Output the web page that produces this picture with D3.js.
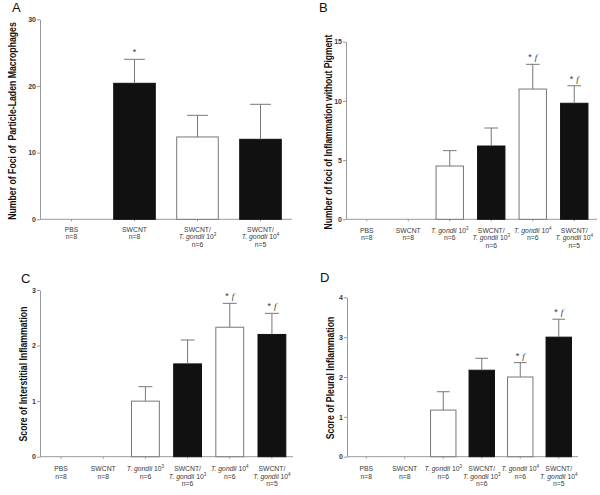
<!DOCTYPE html>
<html><head><meta charset="utf-8">
<script src="https://cdn.jsdelivr.net/npm/d3@7"></script>
<style>body{margin:0;background:#fff}svg{display:block}</style>
</head><body>
<script>
// ---------- data ----------
const catsA = ["PBS", "SWCNT", "SWCNT/\nT. gondii 10^3", "SWCNT/\nT. gondii 10^4"];
const nA    = ["n=8", "n=8", "n=6", "n=5"];
const meanA = [0, 20.4, 12.35, 12.0];
const errA  = [0, 3.6, 3.25, 5.25];
const sigA  = ["", "*", "", ""];
const darkA = [false, true, false, true];
const ticksA = [0, 10, 20, 30];

const cats6 = ["PBS", "SWCNT", "T. gondii 10^3", "SWCNT/\nT. gondii 10^3", "T. gondii 10^4", "SWCNT/\nT. gondii 10^4"];
const n6    = ["n=8", "n=8", "n=6", "n=6", "n=6", "n=5"];
const dark6 = [false, true, false, true, false, true];

const meanB = [0, 0, 4.5, 6.19, 11.0, 9.8];
const errB  = [0, 0, 1.3, 1.52, 2.09, 1.48];
const sigB  = ["", "", "", "", "* f", "* f"];
const ticksB = [0, 5, 10, 15];

const meanC = [0, 0, 1.0, 1.67, 2.33, 2.2];
const errC  = [0, 0, 0.26, 0.43, 0.43, 0.38];
const sigC  = ["", "", "", "", "* f", "* f"];
const ticksC = [0, 1, 2, 3];

const meanD = [0, 0, 1.17, 2.17, 2.0, 3.0];
const errD  = [0, 0, 0.46, 0.30, 0.36, 0.45];
const sigD  = ["", "", "", "", "* f", "* f"];
const ticksD = [0, 1, 2, 3, 4];

const titles = ["Number of Foci of\u00a0 Particle-Laden Macrophages",
                "Number of foci of Inflammation without Pigment",
                "Score of Interstitial Inflammation",
                "Score of Pleural Inflammation"];
const letters = ["A", "B", "C", "D"];

// ---------- drawing ----------
const svg = d3.select("body").append("svg").attr("width", 600).attr("height", 495)
  .style("font-family", "'Liberation Sans', Arial, sans-serif");

const AX = "#9a9a9a", BAR_STROKE = "#777", TXT = "#3a3a3a";

function panel(o) {
  const x = d3.scaleBand().domain(o.cats).range([o.x0, o.x1]).paddingInner(0.34).paddingOuter(0.17);
  const y = d3.scaleLinear().domain([0, d3.max(o.ticks)]).range([o.y0, o.y1]);
  const g = svg.append("g");

  g.append("text").attr("x", o.lx).attr("y", o.ly).attr("font-size", 13).attr("fill", "#111").text(o.letter);

  const ya = g.append("g").attr("transform", `translate(${o.x0},0)`)
    .call(d3.axisLeft(y).tickValues(o.ticks).tickSize(3).tickSizeOuter(0).tickFormat(d3.format("d")));
  ya.select(".domain").attr("stroke", AX);
  ya.selectAll(".tick line").attr("stroke", AX);
  ya.selectAll(".tick text").attr("font-size", 7).attr("font-weight", "bold").attr("fill", TXT)
    .attr("font-family", "'Liberation Sans', Arial, sans-serif").attr("x", -4);

  const xa = g.append("g").attr("transform", `translate(0,${o.y0})`)
    .call(d3.axisBottom(x).tickSize(2).tickSizeOuter(0).tickFormat(""));
  xa.select(".domain").attr("d", `M${o.x0},0H${o.xEnd}`).attr("stroke", AX);
  xa.selectAll(".tick line").attr("stroke", AX);

  o.cats.forEach((c, i) => {
    const lines = c.split("\n").concat([o.n[i]]);
    const cx = x(c) + x.bandwidth() / 2;
    lines.forEach((ln, k) => {
      const t = g.append("text").attr("x", cx).attr("y", o.y0 + o.labOff + k * 7.6)
        .attr("text-anchor", "middle").attr("font-size", 6.8).attr("fill", TXT);
      const m = ln.match(/^(T\. gondii) (\d+)\^(\d)$/);
      if (m) {
        t.append("tspan").attr("font-style", "italic").text(m[1] + " ");
        t.append("tspan").text(m[2]);
        t.append("tspan").attr("font-size", 4.5).attr("dy", -3).text(m[3]);
      } else t.text(ln);
    });
  });

  const idx = d3.range(o.cats.length).filter(i => o.mean[i] > 0);
  g.selectAll("rect.bar").data(idx).join("rect").attr("class", "bar")
    .attr("x", i => x(o.cats[i])).attr("width", x.bandwidth())
    .attr("y", i => y(o.mean[i])).attr("height", i => y(0) - y(o.mean[i]))
    .attr("fill", i => o.dark[i] ? "#111" : "#fff")
    .attr("stroke", i => o.dark[i] ? "#111" : BAR_STROKE).attr("stroke-width", 1);

  idx.forEach(i => {
    const cx = x(o.cats[i]) + x.bandwidth() / 2, w = x.bandwidth() / 4;
    const top = y(o.mean[i] + o.err[i]);
    g.append("line").attr("x1", cx).attr("x2", cx).attr("y1", y(o.mean[i])).attr("y2", top)
      .attr("stroke", BAR_STROKE).attr("stroke-width", 1);
    g.append("line").attr("x1", cx - w).attr("x2", cx + w).attr("y1", top).attr("y2", top)
      .attr("stroke", BAR_STROKE).attr("stroke-width", 1);
    if (o.sig[i]) {
      const t = g.append("text").attr("x", cx).attr("y", top - 4).attr("text-anchor", "middle")
        .attr("font-size", 9).attr("fill", "#333");
      const parts = o.sig[i].split(" ");
      t.append("tspan").text(parts[0]);
      if (parts[1]) t.append("tspan").attr("font-family", "'Liberation Serif', serif")
        .attr("font-style", "italic").attr("dx", 3).text(parts[1]);
    }
  });

  // y title: compressed along its length with a scale transform so its box stays inside
  const tt = g.append("text").attr("text-anchor", "middle").attr("font-size", 10.5)
    .attr("font-weight", "bold").attr("fill", "#111").style("white-space", "pre").text(o.title);
  const nat = tt.node().getComputedTextLength();
  const s = o.tl / nat;
  tt.attr("transform", `translate(${o.tx},${o.ty}) rotate(-90) scale(${s},1)`);
}

panel({cats: catsA, n: nA, mean: meanA, err: errA, sig: sigA, dark: darkA, ticks: ticksA,
  x0: 40, x1: 292, xEnd: 292, y0: 219.3, y1: 19.3, labOff: 12.5,
  letter: letters[0], lx: 12, ly: 12, title: titles[0], tx: 16, ty: 121, tl: 198});
panel({cats: cats6, n: n6, mean: meanB, err: errB, sig: sigB, dark: dark6, ticks: ticksB,
  x0: 346, x1: 595, xEnd: 597, y0: 219.3, y1: 41.7, labOff: 13.5,
  letter: letters[1], lx: 319, ly: 12, title: titles[1], tx: 332, ty: 132, tl: 195});
panel({cats: cats6, n: n6, mean: meanC, err: errC, sig: sigC, dark: dark6, ticks: ticksC,
  x0: 40, x1: 293, xEnd: 293, y0: 456.7, y1: 290, labOff: 14.5,
  letter: letters[2], lx: 21, ly: 283, title: titles[2], tx: 27, ty: 374, tl: 135});
panel({cats: cats6, n: n6, mean: meanD, err: errD, sig: sigD, dark: dark6, ticks: ticksD,
  x0: 347, x1: 578, xEnd: 578, y0: 456.7, y1: 297.3, labOff: 14.5,
  letter: letters[3], lx: 320, ly: 282, title: titles[3], tx: 334, ty: 378, tl: 123});
</script>
</body></html>
